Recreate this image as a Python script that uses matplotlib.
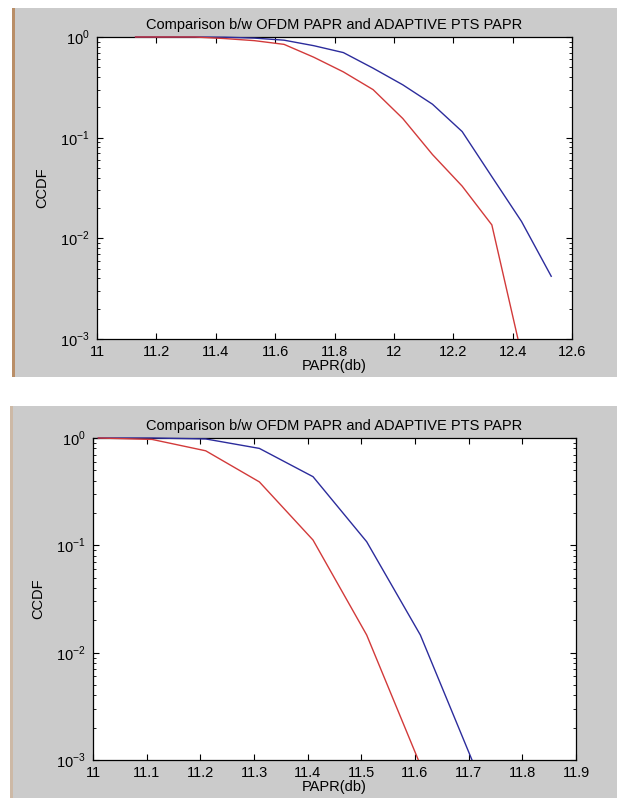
import matplotlib
matplotlib.use('Agg')
import matplotlib.pyplot as plt
from matplotlib.patches import Rectangle
from matplotlib.ticker import FixedLocator, LogLocator, NullFormatter

plt.rcParams['font.family'] = ['Liberation Sans', 'DejaVu Sans']
plt.rcParams['mathtext.fontset'] = 'custom'
plt.rcParams['mathtext.rm'] = 'Liberation Sans'

title = 'Comparison b/w OFDM PAPR and ADAPTIVE PTS PAPR'

# top chart
papr_top = [11.13, 11.23, 11.33, 11.43, 11.53, 11.63, 11.73, 11.83,
            11.93, 12.03, 12.13, 12.23, 12.33, 12.43, 12.53]
ofdm_top = [1.0, 1.0, 1.0, 0.995, 0.975, 0.93, 0.82, 0.70,
            0.49, 0.335, 0.215, 0.115, 0.041, 0.0147, 0.0042]
pts_top = [1.0, 1.0, 1.0, 0.965, 0.92, 0.845, 0.63, 0.45,
           0.30, 0.155, 0.068, 0.033, 0.0136, 0.0007]
xticks_top = [11, 11.2, 11.4, 11.6, 11.8, 12, 12.2, 12.4, 12.6]

# bottom chart
papr_bot = [11.01, 11.11, 11.21, 11.31, 11.41, 11.51, 11.61, 11.71]
ofdm_bot = [1.0, 1.0, 0.98, 0.80, 0.436, 0.108, 0.0146, 0.0009]
pts_bot = [1.0, 0.97, 0.76, 0.39, 0.112, 0.0146, 0.0009]
xticks_bot = [11, 11.1, 11.2, 11.3, 11.4, 11.5, 11.6, 11.7, 11.8, 11.9]

W, H = 617, 798
fs = 10.5
fig = plt.figure(figsize=(W / 100, H / 100), dpi=100)
fig.patch.set_facecolor('white')


def px(x0, y0, x1, y1):
    # pixel box -> figure fraction rect
    return [x0 / W, 1 - y1 / H, (x1 - x0) / W, (y1 - y0) / H]


def panel(x0, y0, x1, y1, strip):
    r = px(x0, y0, x1, y1)
    fig.add_artist(Rectangle((r[0], r[1]), r[2], r[3], transform=fig.transFigure,
                             facecolor='#cbcbcb', edgecolor='none', zorder=-10))
    s = px(x0 - 3, y0, x0, y1)
    fig.add_artist(Rectangle((s[0], s[1]), s[2], s[3], transform=fig.transFigure,
                             facecolor=strip, edgecolor='none', zorder=-10))


panel(15, 8, 617, 377, '#b98e67')
panel(13, 406, 617, 798, '#cdb9a6')


def draw(ax, x, ofdm, pts, xticks, xlim):
    # clip box a little taller than the axes so lines sitting at 10^0 stay visible
    clip = Rectangle((0, 0), 1, 1.01, transform=ax.transAxes)
    l1, = ax.semilogy(x, ofdm, color='#2c2c9c', linewidth=1.0, zorder=3)
    l2, = ax.semilogy(x[:len(pts)], pts, color='#d23a3a', linewidth=1.0, zorder=3)
    l1.set_clip_path(clip)
    l2.set_clip_path(clip)
    ax.set_xlim(xlim)
    ax.set_ylim(1e-3, 1)
    ax.set_facecolor('white')
    ax.xaxis.set_major_locator(FixedLocator(xticks))
    ax.set_xticklabels(['%g' % t for t in xticks])
    ax.yaxis.set_major_locator(FixedLocator([1e-3, 1e-2, 1e-1, 1]))
    ax.set_yticklabels([r'$10^{-3}$', r'$10^{-2}$', r'$10^{-1}$', r'$10^{0}$'])
    ax.yaxis.set_minor_locator(LogLocator(base=10, subs=range(2, 10), numticks=20))
    ax.yaxis.set_minor_formatter(NullFormatter())
    ax.tick_params(which='both', direction='in', top=True, right=True,
                   labelsize=fs, colors='black')
    ax.tick_params(axis='x', pad=4)
    ax.tick_params(axis='y', pad=5)
    ax.tick_params(which='major', length=4, width=0.8)
    ax.tick_params(which='minor', length=2.5, width=0.6)
    for sp in ax.spines.values():
        sp.set_linewidth(0.9)
    ax.set_title(title, fontsize=fs, pad=6)
    ax.set_xlabel('PAPR(db)', fontsize=fs, labelpad=0)
    ax.set_ylabel('CCDF', fontsize=fs, labelpad=8)


ax1 = fig.add_axes(px(97, 37, 572, 339))
draw(ax1, papr_top, ofdm_top, pts_top, xticks_top, (11, 12.6))

ax2 = fig.add_axes(px(93, 438, 576, 760))
draw(ax2, papr_bot, ofdm_bot, pts_bot, xticks_bot, (11, 11.9))

fig.savefig('out.png', dpi=100)
